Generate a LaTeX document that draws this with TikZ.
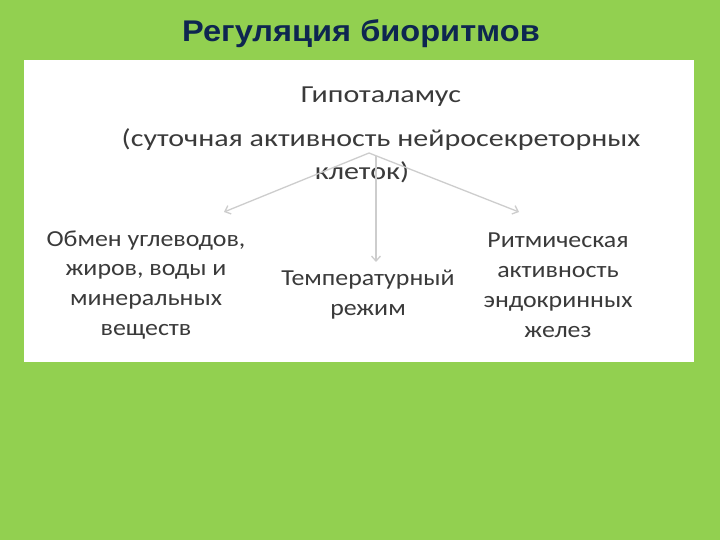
\documentclass[tikz,border=0pt]{standalone}
\usepackage{fontspec}
\setmainfont{Carlito}
\newfontfamily\titlefont{Liberation Sans}
\usetikzlibrary{arrows.meta}
\definecolor{bggreen}{HTML}{92D050}
\definecolor{titleblue}{HTML}{0E2650}
\definecolor{txtgrey}{HTML}{3A3A3A}
\definecolor{arrgrey}{HTML}{CDCDCD}
\tikzset{
  lbl/.style={text=txtgrey, align=center, inner sep=0pt, xscale=1.13, transform shape, font=\fontsize{23}{30}\selectfont},
  toplbl/.style={text=txtgrey, align=center, inner sep=0pt, xscale=1.23, transform shape, font=\fontsize{24.5}{32}\selectfont},
  conn/.style={draw=arrgrey, line width=1.3pt, -{Straight Barb[length=5pt,width=9pt]}}
}
\begin{document}
\begin{tikzpicture}[x=1bp,y=-1bp]
\fill[bggreen] (0,0) rectangle (720,540);
\useasboundingbox (0,0) rectangle (720,540);
\fill[white] (24,60) rectangle (694,362);
\node[font=\titlefont\bfseries\fontsize{30}{34}\selectfont, text=titleblue, inner sep=0pt, xscale=1.09, transform shape] (title) at (361,34) {Регуляция биоритмов};
\node[toplbl] (hyp) at (381,97) {Гипоталамус};
\node[toplbl] (hyp2) at (381,140) {(суточная активность нейросекреторных};
\node[toplbl] (hyp3) at (362,172) {клеток)};
\coordinate (apex) at (369,153);
\coordinate (eL) at (224,212);
\coordinate (eM) at (376,262);
\coordinate (eR) at (519,212);
\node[lbl] (left) at (146,285) {Обмен углеводов,\\жиров, воды и\\минеральных\\веществ};
\node[lbl] (mid) at (368,295) {Температурный\\режим};
\node[lbl] (right) at (558,285) {Ритмическая\\активность\\эндокринных\\желез};
\draw[conn] (apex) -- (eL);
\draw[conn] (apex) -- (eR);
\draw[conn] (376,156) -- (eM);
\end{tikzpicture}
\end{document}
